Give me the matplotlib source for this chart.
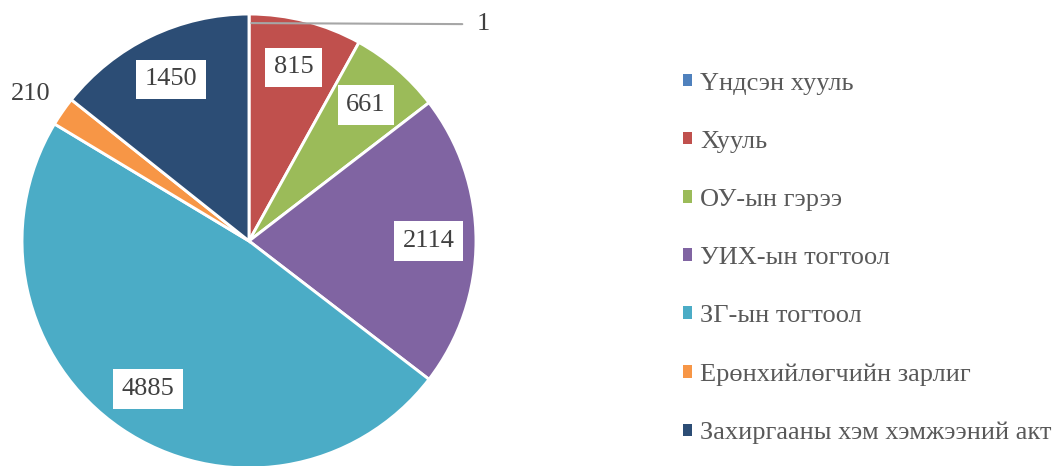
import numpy as np
import matplotlib.pyplot as plt
from matplotlib.patches import Patch

categories = [
    "Үндсэн хууль",
    "Хууль",
    "ОУ-ын гэрээ",
    "УИХ-ын тогтоол",
    "ЗГ-ын тогтоол",
    "Ерөнхийлөгчийн зарлиг",
    "Захиргааны хэм хэмжээний акт",
]
values = [1, 815, 661, 2114, 4885, 210, 1450]
colors = ["#4F81BD", "#C0504D", "#9BBB59", "#8064A2", "#4BACC6", "#F79646", "#2C4D75"]

plt.rcParams["font.family"] = ["Liberation Serif", "DejaVu Serif"]

W, H = 1056, 466
fig = plt.figure(figsize=(W / 100, H / 100), dpi=100)
cx, cy, r = 249, 241, 227
ax = fig.add_axes([(cx - r) / W, (H - cy - r) / H, 2 * r / W, 2 * r / H])

wedges, _ = ax.pie(values, colors=colors, startangle=90, counterclock=False,
                   radius=1, wedgeprops=dict(edgecolor="white", linewidth=2.1))
ax.set_xlim(-1, 1)
ax.set_ylim(-1, 1)
ax.set_aspect("equal")
ax.axis("off")

fs = 19
for w, v in zip(wedges, values):
    mid = np.deg2rad((w.theta1 + w.theta2) / 2)
    if v == 1:
        x0, y0 = np.cos(mid) * 0.99, np.sin(mid) * 0.99
        ax.annotate(str(v), xy=(x0 + 0.01, y0 - 0.03), xytext=(1.03, 0.955),
                    ha="center", va="center", fontsize=fs, color="#404040",
                    annotation_clip=False,
                    arrowprops=dict(arrowstyle="-", color="#A6A6A6", lw=1.5,
                                    shrinkA=8, shrinkB=0))
    elif v < 300:
        ax.text(np.cos(mid) * 1.17, np.sin(mid) * 1.17 - 0.02, str(v), ha="center",
                va="center", fontsize=fs, color="#404040")
    else:
        ax.text(np.cos(mid) * 0.79, np.sin(mid) * 0.79, str(v), ha="center", va="center",
                fontsize=fs, color="#404040",
                bbox=dict(boxstyle="square,pad=0.33", facecolor="white", edgecolor="none"))

handles = [Patch(facecolor=c, edgecolor="none") for c in colors]
fig.legend(handles, categories, loc="center left", bbox_to_anchor=(683 / W, 1 - 258.5 / H),
           frameon=False, fontsize=fs, labelcolor="#595959", handlelength=0.35,
           handleheight=0.35, handletextpad=0.3, labelspacing=1.37,
           borderpad=0, borderaxespad=0)

fig.savefig("out.png", dpi=100)
